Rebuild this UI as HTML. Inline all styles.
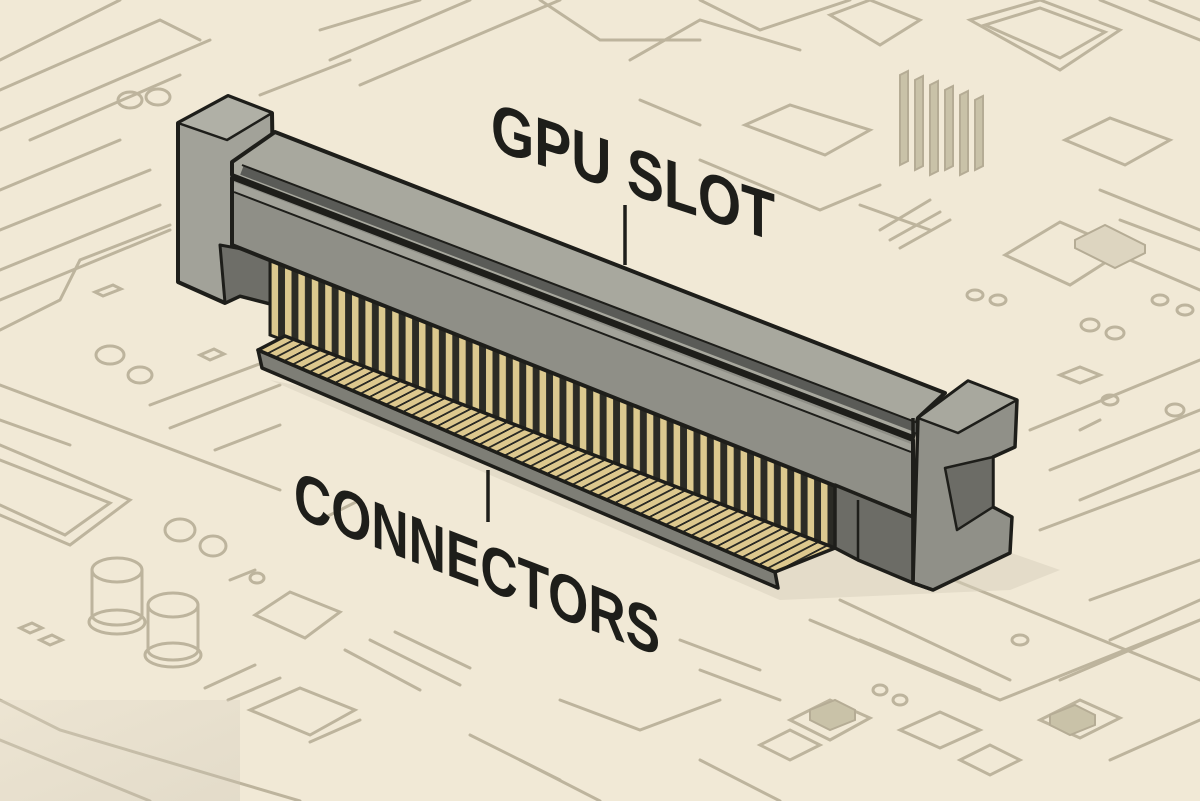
<!DOCTYPE html>
<html><head><meta charset="utf-8"><style>
html,body{margin:0;padding:0;background:#f1e9d6;}
svg{display:block}
</style></head><body>
<svg width="1200" height="801" viewBox="0 0 1200 801" xmlns="http://www.w3.org/2000/svg">
<defs>
<pattern id="pins" x="282" y="0" width="13.4" height="20" patternUnits="userSpaceOnUse">
<rect width="13.4" height="20" fill="#2b2b25"/><rect x="3" width="6.5" height="20" fill="#dcc98f"/>
</pattern>
<pattern id="fing" x="285" y="0" width="15.5" height="20" patternUnits="userSpaceOnUse" patternTransform="skewX(-62.6)">
<rect width="15.5" height="20" fill="#ddc88e"/><rect x="11.5" width="4" height="20" fill="#2b2b25"/>
</pattern>
<linearGradient id="corner" x1="0" y1="0" x2="1" y2="1"><stop offset="0" stop-color="#e4dccb"/><stop offset="1" stop-color="#c9c2b2"/></linearGradient>
</defs>
<rect width="1200" height="801" fill="#f1e9d6"/>
<g fill="none" stroke="#bdb49d" stroke-width="3" stroke-linecap="round">
<path d="M0 700 L60 730 L300 801"/><path d="M0 740 L150 801"/>
<path d="M0 385 L280 490"/><path d="M0 420 L70 445"/>
<path d="M0 445 L130 500 L70 545 L0 515"/><path d="M0 460 L110 503 L65 535 L0 505"/>
<path d="M150 405 L270 360"/><path d="M170 428 L280 385"/><path d="M215 450 L280 425"/>
<ellipse cx="180" cy="530" rx="15" ry="11"/><ellipse cx="213" cy="546" rx="13" ry="10"/>
<path d="M92 570 v45 a25 10 0 0 0 50 0 v-45"/><ellipse cx="117" cy="570" rx="25" ry="12"/><ellipse cx="117" cy="622" rx="28" ry="12"/>
<path d="M148 605 v45 a25 10 0 0 0 50 0 v-45"/><ellipse cx="173" cy="605" rx="25" ry="12"/><ellipse cx="173" cy="655" rx="28" ry="12"/>
<path d="M255 615 L290 592 L340 612 L305 638 Z"/><path d="M250 710 L300 688 L355 710 L310 735 Z"/>
<path d="M205 688 L255 665"/><path d="M228 700 L280 678"/><path d="M310 742 L360 720"/>
<path d="M345 650 L420 690"/><path d="M370 640 L460 685"/><path d="M395 632 L470 668"/>
<path d="M320 520 L360 500"/><path d="M230 580 L255 570"/>
<ellipse cx="257" cy="578" rx="7" ry="5"/>
<path d="M20 628 l12 -5 l10 5 l-12 5z"/><path d="M40 640 l12 -5 l10 5 l-12 5z"/>
<path d="M0 60 L120 0"/><path d="M0 90 L160 20 L200 40"/><path d="M0 130 L210 40"/><path d="M30 140 L180 75"/>
<path d="M0 190 L120 140"/><path d="M0 230 L150 170"/><path d="M0 270 L160 205"/><path d="M0 300 L170 230"/>
<path d="M0 330 L60 300 L80 260 L170 225"/>
<ellipse cx="130" cy="100" rx="12" ry="8"/><ellipse cx="158" cy="97" rx="12" ry="8"/>
<ellipse cx="110" cy="355" rx="14" ry="9"/><ellipse cx="140" cy="375" rx="12" ry="8"/>
<path d="M95 292 l18 -7 l8 4 l-18 7z"/><path d="M200 355 l14 -6 l10 5 l-14 6z"/>
<path d="M320 30 L420 0"/><path d="M330 60 L470 0"/><path d="M360 85 L560 0"/><path d="M260 95 L350 60"/>
<path d="M540 0 L600 40 L700 40"/><path d="M630 60 L700 20 L800 50"/>
<path d="M700 0 L760 30 L850 0"/>
<path d="M830 15 L870 0 L920 20 L880 45 Z"/>
<path d="M970 20 L1040 0 L1120 30 L1060 70 Z"/><path d="M985 25 L1040 8 L1105 32 L1060 58 Z"/>
<path d="M1100 0 L1200 40"/><path d="M1150 0 L1200 20"/>
<path d="M745 125 L790 105 L870 130 L825 155 Z"/>
<path d="M1065 140 L1110 118 L1170 140 L1125 165 Z"/>
<path d="M640 100 L700 125"/><path d="M700 160 L820 210 L880 185"/>
<path d="M860 205 L930 230"/><path d="M880 230 L930 200"/><path d="M890 240 L940 212"/><path d="M900 248 L950 220"/>
<path d="M1005 255 L1060 222 L1125 250 L1070 285 Z"/>
<path d="M1100 190 L1200 230"/><path d="M1120 220 L1200 250"/><path d="M1130 260 L1200 290"/>
<ellipse cx="975" cy="295" rx="8" ry="5"/><ellipse cx="998" cy="300" rx="8" ry="5"/>
<ellipse cx="1160" cy="300" rx="8" ry="5"/><ellipse cx="1185" cy="310" rx="8" ry="5"/>
<ellipse cx="1090" cy="325" rx="9" ry="6"/><ellipse cx="1115" cy="333" rx="9" ry="6"/>
<path d="M1060 375 l20 -8 l20 8 l-20 8z"/>
<ellipse cx="1110" cy="400" rx="8" ry="5"/><ellipse cx="1175" cy="410" rx="9" ry="6"/>
<path d="M1030 430 L1200 360"/><path d="M1050 470 L1200 410"/><path d="M1080 500 L1200 450"/><path d="M1040 530 L1200 470"/>
<path d="M860 400 L900 380"/><path d="M1080 430 L1100 420"/>
<path d="M810 620 L1000 700 L1200 620"/><path d="M840 600 L1010 680"/><path d="M860 640 L980 690"/>
<path d="M1090 600 L1200 560"/><path d="M1110 640 L1200 600"/><path d="M1060 680 L1200 620"/>
<path d="M560 700 L640 730 L720 700"/><path d="M680 640 L760 670"/><path d="M700 670 L780 700"/>
<path d="M520 760 L600 801"/><path d="M470 735 L560 780"/><path d="M700 760 L780 801"/>
<path d="M790 720 L830 700 L870 718 L830 740 Z"/><path d="M760 745 L790 730 L820 745 L790 760 Z"/>
<path d="M900 730 L940 712 L980 730 L940 748 Z"/><path d="M960 760 L990 745 L1020 760 L990 775 Z"/>
<path d="M1040 720 L1080 700 L1120 718 L1080 738 Z"/><path d="M1110 760 L1200 720"/>
<ellipse cx="880" cy="690" rx="7" ry="5"/><ellipse cx="900" cy="700" rx="7" ry="5"/><ellipse cx="1020" cy="640" rx="8" ry="5"/>
<path d="M880 550 L1200 680"/>
</g>
<g fill="#c9c2a8" stroke="#b5ac95" stroke-width="2">
<path d="M900 75 l8 -4 v90 l-8 4z"/><path d="M915 80 l8 -4 v90 l-8 4z"/><path d="M930 85 l8 -4 v90 l-8 4z"/><path d="M945 90 l8 -4 v80 l-8 4z"/><path d="M960 95 l8 -4 v80 l-8 4z"/><path d="M975 100 l8 -4 v70 l-8 4z"/>
<path d="M810 710 l25 -10 l20 10 v10 l-25 10 l-20 -10z"/><path d="M1050 715 l25 -10 l20 10 v10 l-25 10 l-20 -10z"/>
<path d="M1075 240 l30 -15 l40 20 v8 l-30 15 l-40 -20z" fill="#ddd5c0"/>
</g>
<rect x="0" y="700" width="240" height="101" fill="url(#corner)" opacity="0.35"/>
<path d="M270 380 L780 600 L1010 590 L1060 570 L860 500 Z" fill="#d8cfbb" opacity="0.5"/>

<g stroke="#1e1e1a" stroke-width="4" stroke-linejoin="round">
<path d="M178 123 L228 96 L272 113 L275 305 L240 296 L225 303 L178 282 Z" fill="#a2a299"/>
<path d="M178 123 L228 96 L272 113 L227 140 Z" fill="#b0b0a6" stroke-width="2.5"/>
<path d="M220 245 L275 255 L275 305 L240 296 L225 303 Z" fill="#6e6e68" stroke-width="3"/>
<path d="M232 162 L275 132 L945 393 L918 418 L913 437 L232 175 Z" fill="#a8a89e"/>
</g>
<path d="M242 170 L918 428" stroke="#5a5b57" stroke-width="10"/>
<path d="M242 165 L918 423" stroke="#1e1e1a" stroke-width="2"/>
<path d="M270 250 L840 480 L840 550 L270 335 Z" fill="url(#pins)" stroke="#1e1e1a" stroke-width="3"/>
<path d="M232 178 L913 440 L913 517 L232 245 Z" fill="#8f8f87" stroke="#1e1e1a" stroke-width="4" stroke-linejoin="round"/>
<path d="M234 182 L911 444 L911 452 L234 192 Z" fill="#a3a39a"/>
<path d="M234 192 L911 452" stroke="#1e1e1a" stroke-width="2"/>
<g stroke="#1e1e1a" stroke-width="3.5" stroke-linejoin="round">
<path d="M258 350 L775 572 L778 588 L262 368 Z" fill="#7e7e76"/>
<path d="M285 336 L835 548 L775 572 L258 350 Z" fill="url(#fing)"/>
<path d="M835 485 L913 517 L913 583 L858 560 L835 548 Z" fill="#6c6c66"/>
<path d="M858 500 L858 560" stroke-width="2.5" fill="none"/>
<path d="M918 418 L968 381 L1017 400 L1015 447 L993 457 L993 507 L1012 517 L1010 553 L933 590 L913 583 Z" fill="#909088"/>
<path d="M918 418 L968 381 L1017 400 L958 433 Z" fill="#a8a89e" stroke-width="2.5"/>
<path d="M945 468 L993 457 L993 507 L957 530 Z" fill="#6c6c66" stroke-width="2.5"/>
<path d="M913 418 L913 583 L933 590" fill="none"/>
</g>
<path d="M625 205 L625 265" stroke="#1e1e1a" stroke-width="3.5"/>
<path d="M488 470 L488 522" stroke="#1e1e1a" stroke-width="3.5"/>
<g font-family="'Liberation Sans Narrow','Liberation Sans',sans-serif" font-weight="bold" fill="#1e1e1a">
<text transform="translate(491,149) skewY(18)" font-size="68" textLength="284" lengthAdjust="spacingAndGlyphs">GPU SLOT</text>
<text transform="translate(294,516) skewY(21)" font-size="66" textLength="366" lengthAdjust="spacingAndGlyphs">CONNECTORS</text>
</g>
</svg>
</body></html>
